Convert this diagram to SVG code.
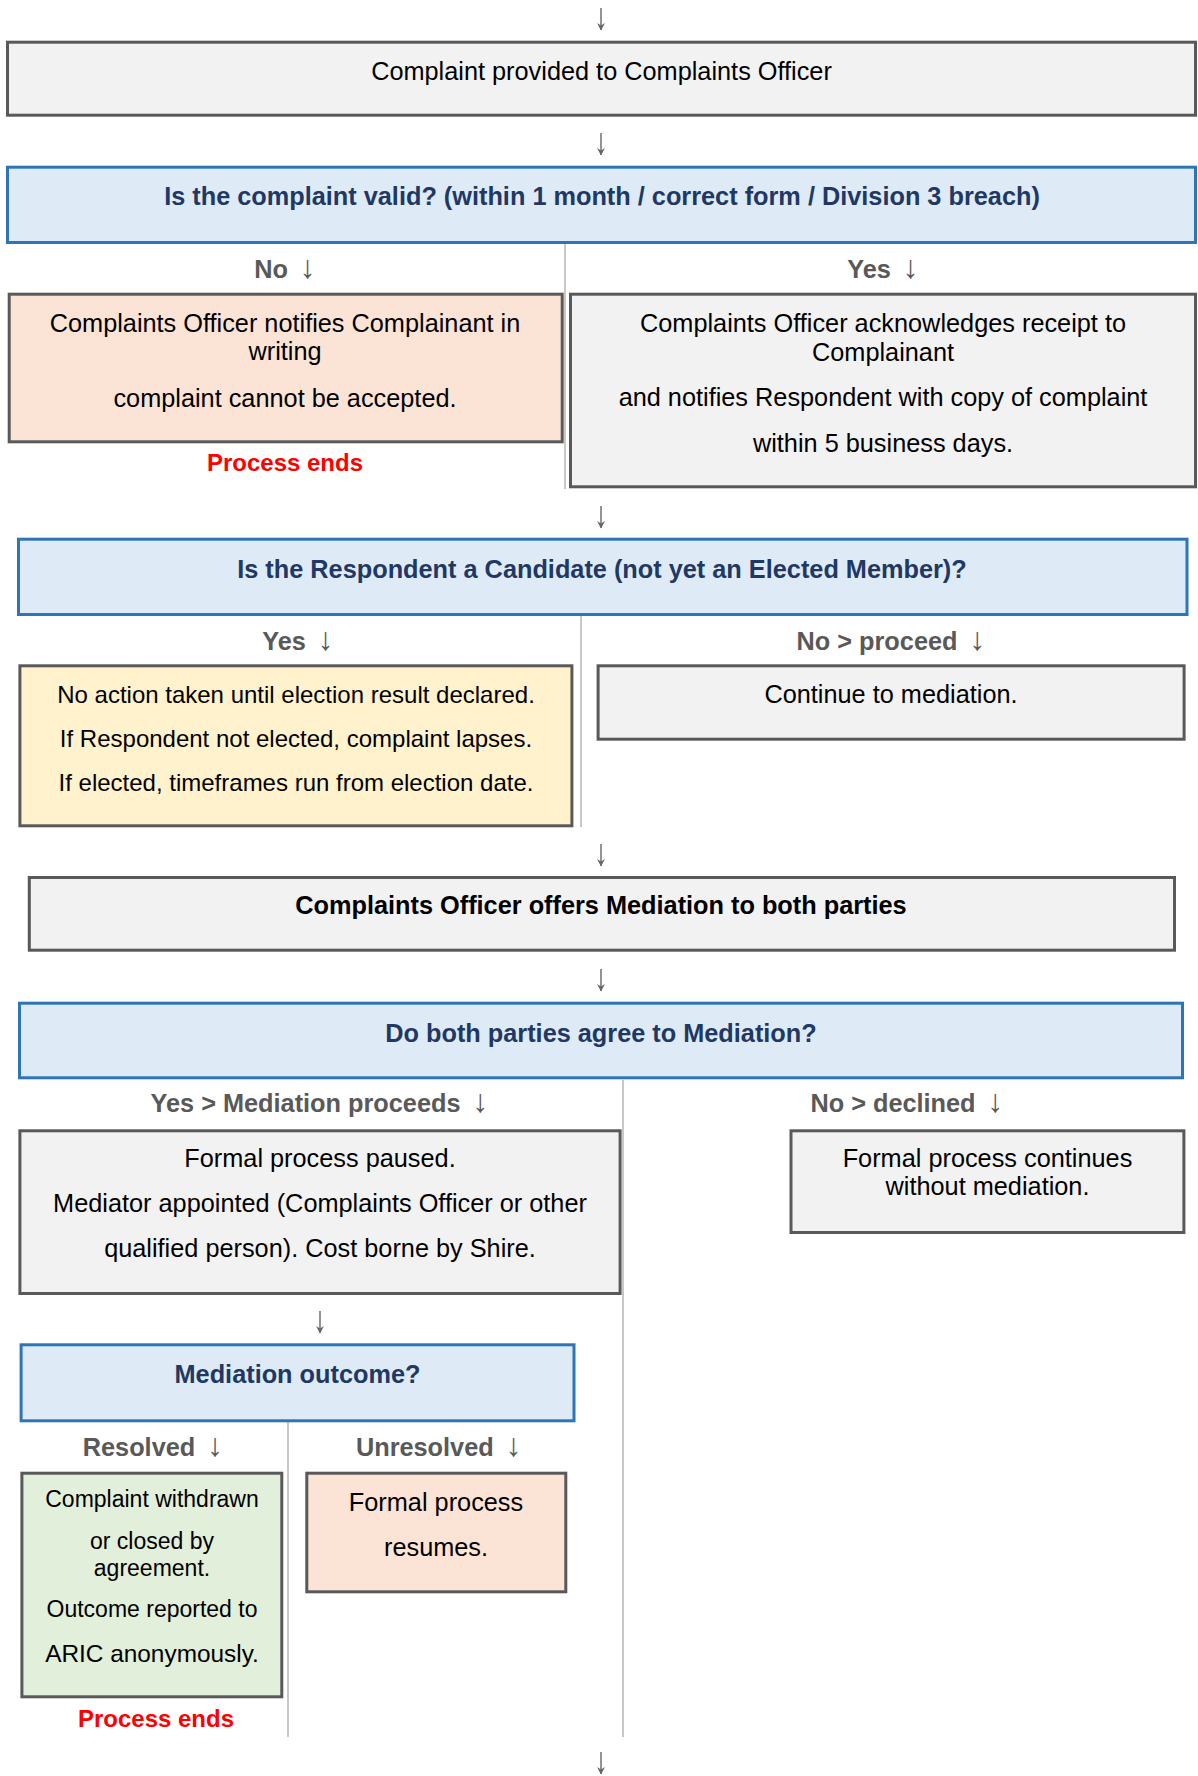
<svg xmlns="http://www.w3.org/2000/svg" width="1198" height="1776" viewBox="0 0 1198 1776">
<style>
  text { font-family: "Liberation Sans", Arial, sans-serif; text-anchor: middle; }
  .t { font-size: 25.3px; fill: #000; }
  .ty { font-size: 24px; fill: #000; }
  .ts { font-size: 23px; fill: #000; }
  .q { font-size: 25.3px; font-weight: bold; fill: #1f3864; }
  .b { font-size: 25.3px; font-weight: bold; fill: #000; }
  .lbl { font-size: 25.3px; font-weight: bold; fill: #595959; }
  .ar { font-weight: normal; font-size: 32px; }
  .end { font-size: 24px; font-weight: bold; fill: #ff0000; }
  .box { fill: #f2f2f2; stroke: #595959; stroke-width: 3; }
  .dec { fill: #deebf6; stroke: #2e75b6; stroke-width: 3; }
  .peach { fill: #fbe4d6; stroke: #595959; stroke-width: 3; }
  .yellow { fill: #fff2cc; stroke: #595959; stroke-width: 3; }
  .green { fill: #e2efda; stroke: #595959; stroke-width: 3; }
  .div { stroke: #c8c8c8; stroke-width: 2; fill: none; }
  .arr { stroke: #666; stroke-width: 1.4; fill: none; marker-end: url(#head); }
</style>
<defs>
  <marker id="head" viewBox="0 0 10 10" refX="5" refY="9" markerWidth="10" markerHeight="10" markerUnits="userSpaceOnUse" orient="0">
    <path d="M1,2 L5,9.5 L9,2 L5,4.5 Z" fill="#666"/>
  </marker>
</defs>
<rect width="1198" height="1776" fill="#fff"/>

<g id="connectors">
  <line class="div" x1="565" y1="244" x2="565" y2="489"/>
  <line class="div" x1="581" y1="616" x2="581" y2="827"/>
  <line class="div" x1="623" y1="1080" x2="623" y2="1737"/>
  <line class="div" x1="288" y1="1422" x2="288" y2="1737"/>
  <path class="arr" d="M601,8 V30"/>
  <path class="arr" d="M601,133 V155"/>
  <path class="arr" d="M601,506 V528"/>
  <path class="arr" d="M601,844 V866"/>
  <path class="arr" d="M601,969 V991"/>
  <path class="arr" d="M320,1311 V1333"/>
  <path class="arr" d="M601,1752 V1774"/>
</g>

<g id="n-received">
  <rect class="box" x="7.5" y="42.2" width="1188" height="73"/>
  <text class="t" x="601.5" y="80">Complaint provided to Complaints Officer</text>
</g>

<g id="n-valid">
  <rect class="dec" x="7.5" y="167.2" width="1188" height="75.3"/>
  <text class="q" x="602" y="205">Is the complaint valid? (within 1 month / correct form / Division 3 breach)</text>
</g>

<g id="n-invalid">
  <text class="lbl" x="285" y="278">No<tspan class="ar" dx="12">↓</tspan></text>
  <rect class="peach" x="9.2" y="294.2" width="553" height="147.6"/>
  <text class="t" x="285" y="331.7">Complaints Officer notifies Complainant in</text>
  <text class="t" x="285" y="360">writing</text>
  <text class="t" x="285" y="406.7">complaint cannot be accepted.</text>
  <text class="end" x="285" y="470.7">Process ends</text>
</g>

<g id="n-acknowledge">
  <text class="lbl" x="883" y="278">Yes<tspan class="ar" dx="12">↓</tspan></text>
  <rect class="box" x="570.5" y="294.2" width="625" height="192.6"/>
  <text class="t" x="883" y="331.7">Complaints Officer acknowledges receipt to</text>
  <text class="t" x="883" y="360.5">Complainant</text>
  <text class="t" x="883" y="406">and notifies Respondent with copy of complaint</text>
  <text class="t" x="883" y="451.7">within 5 business days.</text>
</g>

<g id="n-candidate">
  <rect class="dec" x="18.5" y="539.2" width="1168.5" height="75.3"/>
  <text class="q" x="602" y="578">Is the Respondent a Candidate (not yet an Elected Member)?</text>
</g>

<g id="n-candidate-yes">
  <text class="lbl" x="298" y="650">Yes<tspan class="ar" dx="12">↓</tspan></text>
  <rect class="yellow" x="19.9" y="665.8" width="552" height="160"/>
  <text class="ty" x="296" y="702.7">No action taken until election result declared.</text>
  <text class="ty" x="296" y="746.7">If Respondent not elected, complaint lapses.</text>
  <text class="ty" x="296" y="791">If elected, timeframes run from election date.</text>
</g>

<g id="n-candidate-no">
  <text class="lbl" x="891" y="650">No &gt; proceed<tspan class="ar" dx="12">↓</tspan></text>
  <rect class="box" x="598.1" y="665.8" width="586" height="73.4"/>
  <text class="t" x="891" y="702.7">Continue to mediation.</text>
</g>

<g id="n-offer">
  <rect class="box" x="29.3" y="877.5" width="1145.2" height="72.7"/>
  <text class="b" x="601" y="914">Complaints Officer offers Mediation to both parties</text>
</g>

<g id="n-agree">
  <rect class="dec" x="19.5" y="1003.2" width="1163" height="74.6"/>
  <text class="q" x="601" y="1041.7">Do both parties agree to Mediation?</text>
</g>

<g id="n-mediation">
  <text class="lbl" x="319.5" y="1111.7">Yes &gt; Mediation proceeds<tspan class="ar" dx="12">↓</tspan></text>
  <rect class="box" x="19.9" y="1130.8" width="600.2" height="162.7"/>
  <text class="t" x="320" y="1166.7">Formal process paused.</text>
  <text class="t" x="320" y="1211.7">Mediator appointed (Complaints Officer or other</text>
  <text class="t" x="320" y="1256.7">qualified person). Cost borne by Shire.</text>
</g>

<g id="n-declined">
  <text class="lbl" x="907" y="1111.7">No &gt; declined<tspan class="ar" dx="12">↓</tspan></text>
  <rect class="box" x="791" y="1130.8" width="392.9" height="101.7"/>
  <text class="t" x="987.5" y="1166.7">Formal process continues</text>
  <text class="t" x="987.5" y="1195">without mediation.</text>
</g>

<g id="n-outcome">
  <rect class="dec" x="21.1" y="1344.8" width="552.9" height="76"/>
  <text class="q" x="297.5" y="1383.3">Mediation outcome?</text>
</g>

<g id="n-resolved">
  <text class="lbl" x="153" y="1456">Resolved<tspan class="ar" dx="12">↓</tspan></text>
  <rect class="green" x="21.9" y="1473.2" width="259.9" height="223.6"/>
  <text class="ts" x="152" y="1507.3">Complaint withdrawn</text>
  <text class="ts" x="152" y="1549.3">or closed by</text>
  <text class="ts" x="152" y="1576">agreement.</text>
  <text class="ts" x="152" y="1617.3">Outcome reported to</text>
  <text class="ts" x="152" y="1661.7" style="font-size:24.4px">ARIC anonymously.</text>
  <text class="end" x="156" y="1726.7">Process ends</text>
</g>

<g id="n-unresolved">
  <text class="lbl" x="438.8" y="1456">Unresolved<tspan class="ar" dx="12">↓</tspan></text>
  <rect class="peach" x="306.8" y="1473.2" width="259" height="118.6"/>
  <text class="t" x="436" y="1510.7">Formal process</text>
  <text class="t" x="436" y="1555.7">resumes.</text>
</g>
</svg>
